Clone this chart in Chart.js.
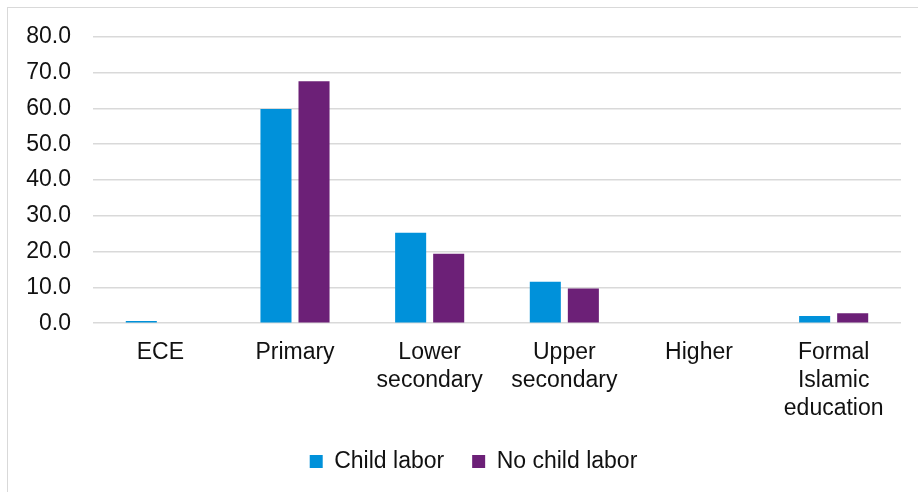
<!DOCTYPE html>
<html>
<head>
<meta charset="utf-8">
<script src="https://cdn.jsdelivr.net/npm/chart.js@4.4.1/dist/chart.umd.min.js"></script>
<style>
  html, body { margin: 0; padding: 0; background: #fff; overflow: hidden; }
  #kehys {
    position: absolute; left: 7px; top: 7px;
    width: 940px; height: 520px;
    border: 1px solid #d9d9d9;
  }
  #alue { position: absolute; left: 0; top: -7px; width: 910px; height: 482px; }
</style>
</head>
<body>
<div id="kehys"><div id="alue"><canvas id="kaavio"></canvas></div></div>
<script>
// Koulutustaso vs lapsityö
const kategoriat = ['ECE', 'Primary', ['Lower', 'secondary'], ['Upper', 'secondary'], 'Higher', ['Formal', 'Islamic', 'education']];
const lapsityo = [0.6, 59.8, 25.3, 11.6, 0.0, 2.0];
const eiLapsityota = [0.0, 67.6, 19.4, 9.7, 0.0, 2.8];
const sarjaNimet = ['Child labor', 'No child labor'];
const yTicks = [0, 10, 20, 30, 40, 50, 60, 70, 80];

const fontti = 'Liberation Sans, Arial, sans-serif';

// siirtää selitettä hieman oikealle
const selitteenSiirto = {
  id: 'selitteenSiirto',
  afterLayout(chart) {
    if (chart.legend) {
      chart.legend.left += 10;
      chart.legend.right += 10;
    }
  }
};

new Chart(document.getElementById('kaavio'), {
  type: 'bar',
  data: {
    labels: kategoriat,
    datasets: [
      {
        label: sarjaNimet[0],
        data: lapsityo,
        backgroundColor: '#0091da',
        categoryPercentage: 0.565,
        barPercentage: 0.816
      },
      {
        label: sarjaNimet[1],
        data: eiLapsityota,
        backgroundColor: '#6c2077',
        categoryPercentage: 0.565,
        barPercentage: 0.816
      }
    ]
  },
  plugins: [selitteenSiirto],
  options: {
    responsive: true,
    maintainAspectRatio: false,
    animation: false,
    layout: { padding: { left: 18, right: 17, top: 2, bottom: 0 } },
    plugins: {
      tooltip: { enabled: false },
      legend: {
        position: 'bottom',
        labels: {
          font: { family: fontti, size: 23 },
          color: '#111',
          boxWidth: 13,
          boxHeight: 13,
          padding: 28
        }
      }
    },
    scales: {
      y: {
        min: 0,
        max: 80,
        afterFit: (s) => { s.width = 67; },
        afterBuildTicks: (s) => { s.ticks = yTicks.map(v => ({ value: v })); },
        grid: { color: '#d9d9d9', lineWidth: 1.5, drawTicks: false },
        border: { display: false },
        ticks: {
          padding: 22,
          color: '#111',
          font: { family: fontti, size: 23 },
          callback: (v) => v.toFixed(1)
        }
      },
      x: {
        afterFit: (s) => { s.height -= 16; },
        grid: { display: false, drawTicks: false },
        border: { display: false },
        ticks: {
          padding: 16,
          color: '#111',
          maxRotation: 0,
          autoSkip: false,
          font: { family: fontti, size: 23, lineHeight: 1.2 }
        }
      }
    }
  }
});
</script>
</body>
</html>
